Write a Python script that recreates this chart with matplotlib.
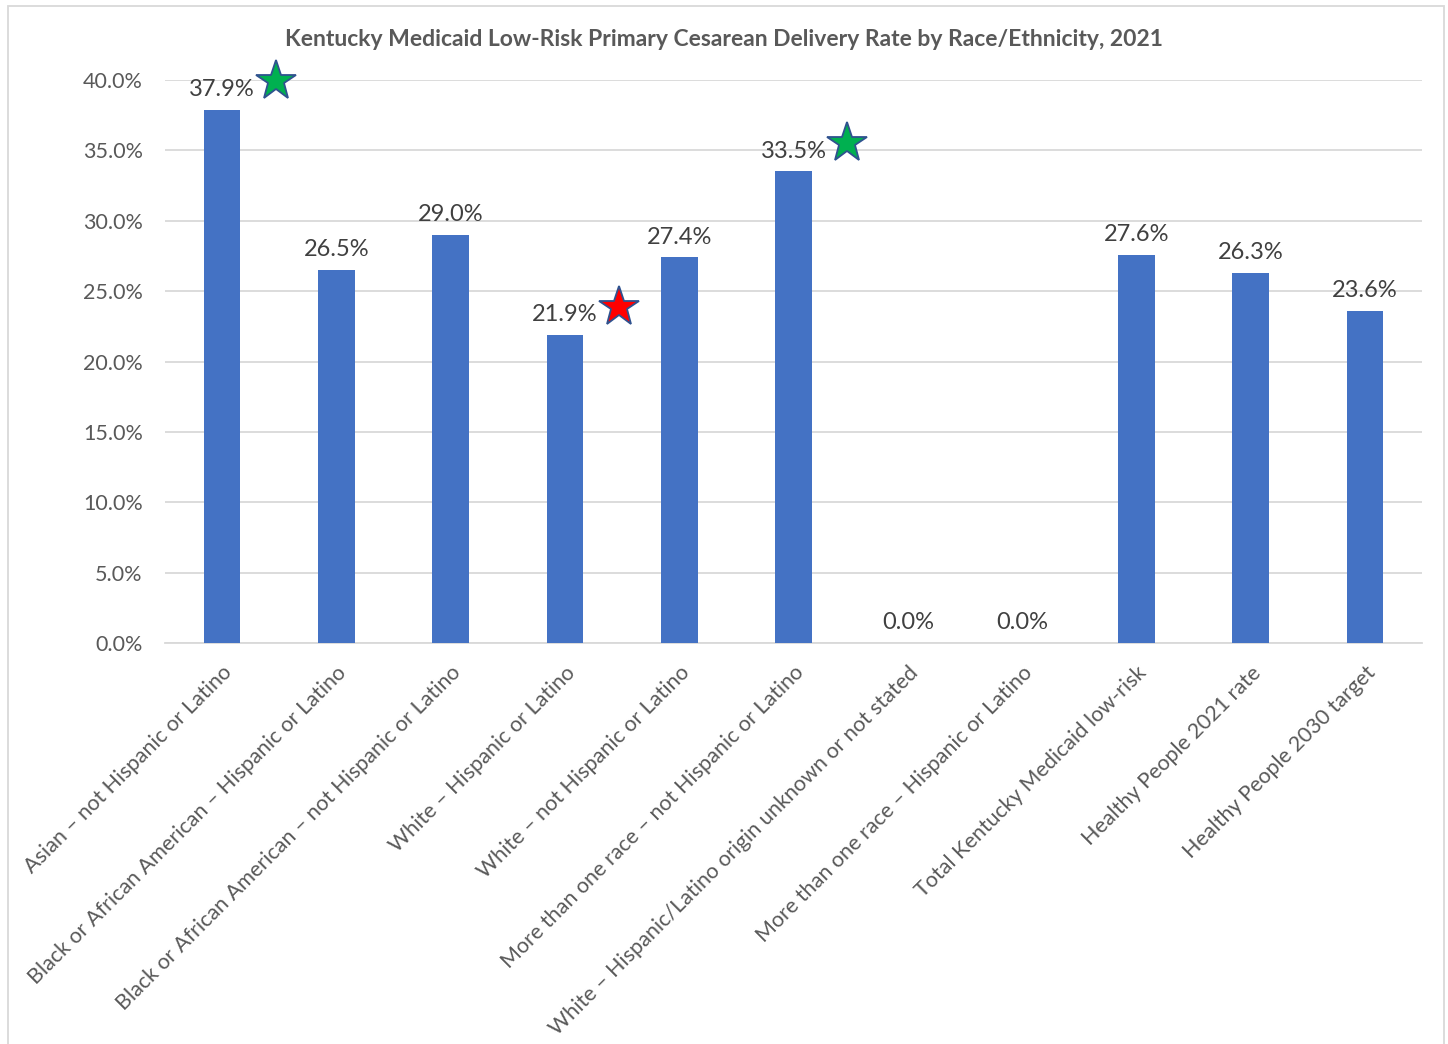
import numpy as np
import matplotlib
matplotlib.use("Agg")
import matplotlib.pyplot as plt
from matplotlib.patches import Rectangle
from matplotlib.ticker import FuncFormatter

## dati ##
categorie = [
    "Asian – not Hispanic or Latino",
    "Black or African American – Hispanic or Latino",
    "Black or African American – not Hispanic or Latino",
    "White – Hispanic or Latino",
    "White – not Hispanic or Latino",
    "More than one race – not Hispanic or Latino",
    "White – Hispanic/Latino origin unknown or not stated",
    "More than one race – Hispanic or Latino",
    "Total Kentucky Medicaid low-risk",
    "Healthy People 2021 rate",
    "Healthy People 2030 target",
]
valori = [37.9, 26.5, 29.0, 21.9, 27.4, 33.5, 0.0, 0.0, 27.6, 26.3, 23.6]
etichette = ["37.9%", "26.5%", "29.0%", "21.9%", "27.4%", "33.5%",
             "0.0%", "0.0%", "27.6%", "26.3%", "23.6%"]
stelle = [0, 5, 3]                      # indici delle barre con stella
colori_stelle = ["#00B050", "#00B050", "#FF0000"]

titolo = "Kentucky Medicaid Low-Risk Primary Cesarean Delivery Rate by Race/Ethnicity, 2021"

grigio = "#595959"
plt.rcParams['font.family'] = ['Lato', 'DejaVu Sans']

fig = plt.figure(figsize=(14.48, 10.44), dpi=100)
ax = fig.add_axes([165/1448, 1 - 643/1044, (1422 - 165)/1448, (643 - 80)/1044])

x = np.arange(len(categorie))
ax.bar(x, valori, width=0.32, color="#4472C4", zorder=3)

# etichette dei valori sopra le barre
for xi, v, t in zip(x, valori, etichette):
    ax.annotate(t, (xi, v), xytext=(0, 7), textcoords="offset points",
                ha="center", va="bottom", fontsize=17, color="#404040")

# stelle accanto alle etichette
for i, c in zip(stelle, colori_stelle):
    ax.plot(x[i] + 0.47, valori[i] + 2.0, marker="*", markersize=30,
            markerfacecolor=c, markeredgecolor="#2F528F", markeredgewidth=1.3,
            zorder=5, clip_on=False)

ax.set_xlim(-0.5, len(categorie) - 0.5)
ax.set_ylim(0, 40)
ax.set_yticks(np.arange(0, 41, 5))
ax.yaxis.set_major_formatter(FuncFormatter(lambda v, p: f"{v:.1f}%"))
ax.grid(axis="y", color="#D9D9D9", linewidth=1.3, zorder=0)
for s in ["top", "right", "left"]:
    ax.spines[s].set_visible(False)
ax.spines["bottom"].set_color("#D9D9D9")
ax.spines["bottom"].set_linewidth(1.3)
ax.tick_params(axis="both", length=0, labelsize=15.5, labelcolor=grigio)
ax.tick_params(axis="y", pad=16)

ax.set_xticks(x)
ax.set_xticklabels(categorie, rotation=45, ha="right", va="top",
                   rotation_mode="anchor")
ax.tick_params(axis="x", pad=14)

fig.text(0.5, 1 - 40/1044, titolo, ha="center", va="center",
         fontsize=16.5, fontweight="bold", color=grigio)

# bordo del grafico
fig.patches.append(Rectangle((8/1448, -0.05), (1444 - 8)/1448, 1.05 - 6/1044,
                             transform=fig.transFigure, fill=False,
                             edgecolor="#D9D9D9", linewidth=1.3))

fig.savefig("out.png", dpi=100)
